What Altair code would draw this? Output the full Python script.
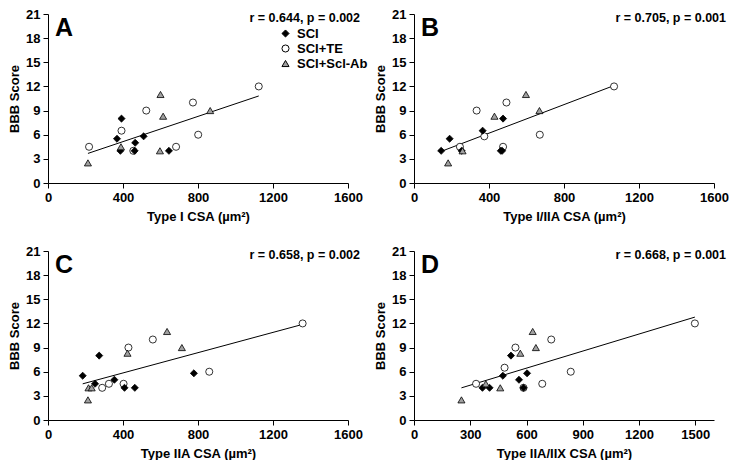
import altair as alt
import pandas as pd

GROUPS = ["SCI", "SCI+TE", "SCI+Scl-Ab"]
SHAPES = ["diamond", "circle", "triangle-up"]
FILLS = ["black", "white", "#a0a0a0"]
STROKES = ["black", "black", "black"]

# Panel A: Type I CSA
a_x = [219, 392, 455, 524, 683, 773, 801, 1124, 392, 368, 386, 462, 465, 510, 645, 213, 389, 600, 614, 597, 865]
a_y = [4.5, 6.5, 4, 9, 4.5, 10, 6, 12, 8, 5.5, 4, 4, 5, 5.8, 4, 2.5, 4.5, 11, 8.3, 4, 9]
a_g = ["SCI+TE"] * 8 + ["SCI"] * 7 + ["SCI+Scl-Ab"] * 6

# Panel B: Type I/IIA CSA
b_x = [245, 334, 375, 493, 475, 671, 1067, 145, 190, 254, 366, 475, 463, 470, 182, 259, 429, 597, 669]
b_y = [4.5, 9, 5.8, 10, 4.5, 6, 12, 4, 5.5, 4, 6.5, 8, 4, 4, 2.5, 4, 8.3, 11, 9]
b_g = ["SCI+TE"] * 7 + ["SCI"] * 7 + ["SCI+Scl-Ab"] * 5

# Panel C: Type IIA CSA
c_x = [289, 325, 403, 429, 559, 860, 1358, 185, 273, 251, 354, 408, 463, 778, 213, 216, 233, 424, 635, 714]
c_y = [4, 4.5, 4.5, 9, 10, 6, 12, 5.5, 8, 4.5, 5, 4, 4, 5.8, 2.5, 4, 4, 8.3, 11, 9]
c_g = ["SCI+TE"] * 7 + ["SCI"] * 7 + ["SCI+Scl-Ab"] * 6

# Panel D: Type IIA/IIX CSA
d_x = [331, 483, 541, 584, 684, 732, 836, 1498, 365, 403, 474, 517, 560, 584, 603, 253, 383, 460, 567, 633, 650]
d_y = [4.5, 6.5, 9, 4, 4.5, 10, 6, 12, 4, 4, 5.5, 8, 5, 4, 5.8, 2.5, 4.5, 4, 8.3, 11, 9]
d_g = ["SCI+TE"] * 8 + ["SCI"] * 7 + ["SCI+Scl-Ab"] * 6

letters = ["A", "B", "C", "D"]
stats = ["r = 0.644, p = 0.002", "r = 0.705, p = 0.001", "r = 0.658, p = 0.002", "r = 0.668, p = 0.001"]
x_titles = ["Type I CSA (µm²)", "Type I/IIA CSA (µm²)", "Type IIA CSA (µm²)", "Type IIA/IIX CSA (µm²)"]
x_ticks_400 = [0, 400, 800, 1200, 1600]
x_ticks_300 = [0, 300, 600, 900, 1200, 1500]
y_ticks = [0, 3, 6, 9, 12, 15, 18, 21]

FONT = "Liberation Sans"
W, H = 300, 169


def panel(xs, ys, gs, letter, stat, xtitle, xticks, show_legend):
    df = pd.DataFrame({"x": xs, "y": ys, "group": gs})
    if show_legend:
        leg = alt.Legend(orient="none", legendX=231, legendY=13, title=None,
                         labelFont=FONT, labelFontSize=13, labelFontWeight="bold",
                         labelColor="black", symbolSize=50, symbolOpacity=1,
                         symbolStrokeWidth=1, rowPadding=1, labelOffset=5, padding=0)
    else:
        leg = None
    base = alt.Chart(df).encode(
        x=alt.X("x:Q", scale=alt.Scale(domain=[0, 1600], nice=False),
                axis=alt.Axis(values=xticks, title=xtitle, titlePadding=6, format="d",
                              labelOverlap=False, labelFlush=False)),
        y=alt.Y("y:Q", scale=alt.Scale(domain=[0, 21], nice=False),
                axis=alt.Axis(values=y_ticks, title="BBB Score", titlePadding=4, format="d",
                              labelOverlap=False, labelFlush=False)),
    )
    pts = base.mark_point(filled=True, opacity=1, strokeWidth=0.8, size=50).encode(
        fill=alt.Fill("group:N", scale=alt.Scale(domain=GROUPS, range=FILLS), legend=leg),
        shape=alt.Shape("group:N", scale=alt.Scale(domain=GROUPS, range=SHAPES), legend=leg),
        stroke=alt.Stroke("group:N", scale=alt.Scale(domain=GROUPS, range=STROKES), legend=leg),
    )
    line = base.transform_regression("x", "y").mark_line(color="black", strokeWidth=1)
    lab = pd.DataFrame({"t": [letter]})
    letter_txt = alt.Chart(lab).mark_text(font=FONT, fontSize=25, fontWeight="bold", align="left",
                                          baseline="alphabetic", color="black").encode(
        text="t:N", x=alt.value(7), y=alt.value(22))
    st = pd.DataFrame({"t": [stat]})
    stat_txt = alt.Chart(st).mark_text(font=FONT, fontSize=12.5, fontWeight="bold", align="right",
                                       baseline="middle", color="black").encode(
        text="t:N", x=alt.value(W + 12), y=alt.value(4))
    return alt.layer(line, pts, letter_txt, stat_txt).properties(width=W, height=H)


pa = panel(a_x, a_y, a_g, letters[0], stats[0], x_titles[0], x_ticks_400, True)
pb = panel(b_x, b_y, b_g, letters[1], stats[1], x_titles[1], x_ticks_400, False)
pc = panel(c_x, c_y, c_g, letters[2], stats[2], x_titles[2], x_ticks_400, False)
pd_ = panel(d_x, d_y, d_g, letters[3], stats[3], x_titles[3], x_ticks_300, False)

chart = alt.concat(pa, pb, pc, pd_, columns=2, spacing={"row": 68, "column": 66}, bounds="flush").resolve_scale(
    fill="independent", shape="independent", stroke="independent"
).resolve_legend(fill="independent", shape="independent", stroke="independent").configure_view(
    stroke=None
).configure_axis(
    labelFont=FONT, labelFontSize=13, labelFontWeight="bold", labelColor="black",
    titleFont=FONT, titleFontSize=13, titleFontWeight="bold", titleColor="black",
    domainColor="black", tickColor="black", tickSize=5, labelPadding=3, grid=False,
    labelOverlap=False,
).properties(padding=0, background="white")

chart.save("out.html", embed_options={"renderer": "svg", "actions": False})
